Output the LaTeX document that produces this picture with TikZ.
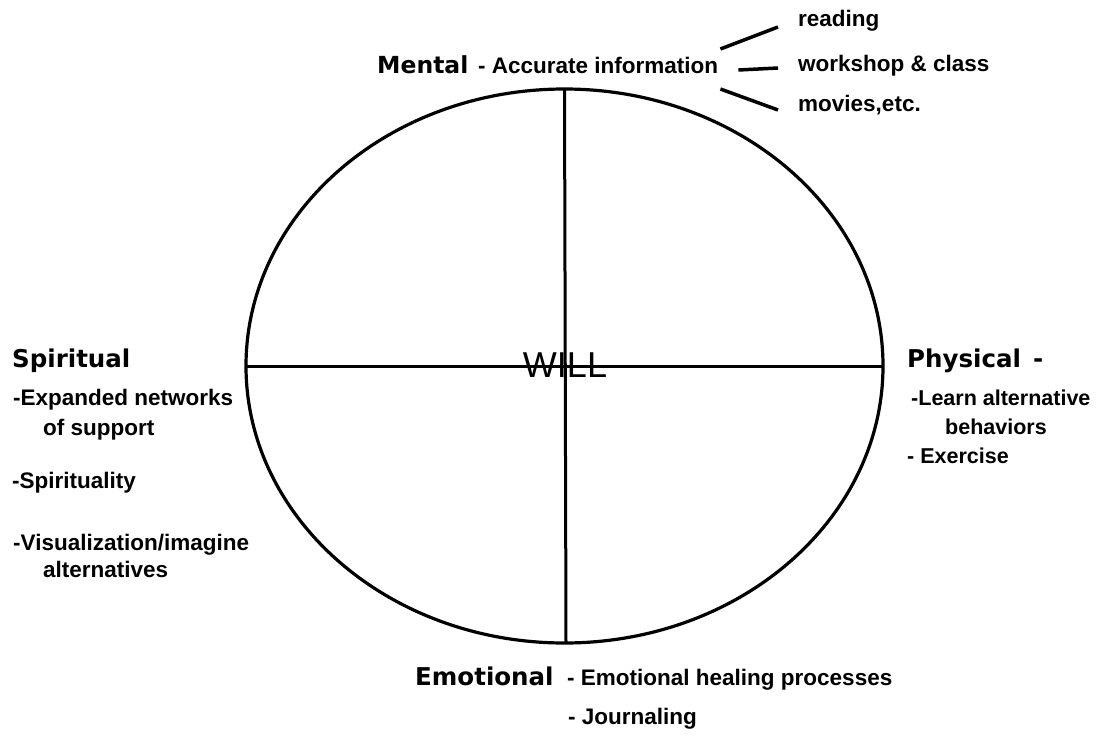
\documentclass[tikz,border=0pt]{standalone}
\usepackage{fontspec}
\setmainfont{Liberation Sans}
\newfontfamily\headfont{DejaVu Sans}
\usetikzlibrary{shapes.geometric,calc}
\begin{document}
\begin{tikzpicture}[x=1pt,y=-1pt,
  head/.style={font=\headfont\bfseries\fontsize{24.5}{30}\selectfont, anchor=base west, inner sep=0pt},
  sub/.style={font=\bfseries\fontsize{22.5}{26}\selectfont, anchor=base west, inner sep=0pt},
  subsmall/.style={sub, font=\bfseries\fontsize{21.5}{26}\selectfont},
  link/.style={line width=3.5pt},
  axis/.style={line width=3pt}]
\useasboundingbox (0,0) rectangle (1098,742);

\node[draw, ellipse, line width=3.2pt, minimum width=637pt, minimum height=554pt, inner sep=0pt, outer sep=0pt] (oval) at (564.5,366) {};
\draw[axis] (oval.north) -- ($(oval.south)+(1.5,0)$);
\draw[axis] (oval.west) -- (oval.east);
\node[font=\fontsize{36}{40}\selectfont, anchor=base, inner sep=0pt] (will) at (565,377) {WILL};

\node[head, font=\headfont\bfseries\fontsize{23.5}{30}\selectfont] (mental) at (377,73) {Mental};
\node[sub] (acc) at (478,73) {- Accurate information};
\node[sub] (reading) at (798,26) {reading};
\node[sub] (workshop) at (798,71) {workshop \& class};
\node[sub] (movies) at (798,111) {movies,etc.};
\draw[link] ($(acc.base east)+(2,-24)$) -- ($(reading.base west)+(-20,1)$);
\draw[link] ($(acc.base east)+(20,-3)$) -- ($(workshop.base west)+(-20,-3)$);
\draw[link] ($(acc.base east)+(2,16)$) -- ($(movies.base west)+(-20,-1)$);

\node[head] (spir) at (12,367) {Spiritual};
\node[sub] (sp1) at (13,405) {-Expanded networks};
\node[sub] (sp2) at (43,435) {of support};
\node[sub] (sp3) at (12,488) {-Spirituality};
\node[sub] (sp4) at (13,550) {-Visualization/imagine};
\node[sub] (sp5) at (43,577) {alternatives};

\node[head] (phys) at (907,367) {Physical\hspace{12pt}-};
\node[subsmall] (ph1) at (911,405) {-Learn alternative};
\node[subsmall] (ph2) at (945,434) {behaviors};
\node[subsmall] (ph3) at (907,463) {- Exercise};

\node[head] (emo) at (415,685) {Emotional};
\node[sub] (em1) at (567,685) {- Emotional healing processes};
\node[sub] (em2) at (568,724) {- Journaling};
\end{tikzpicture}
\end{document}
